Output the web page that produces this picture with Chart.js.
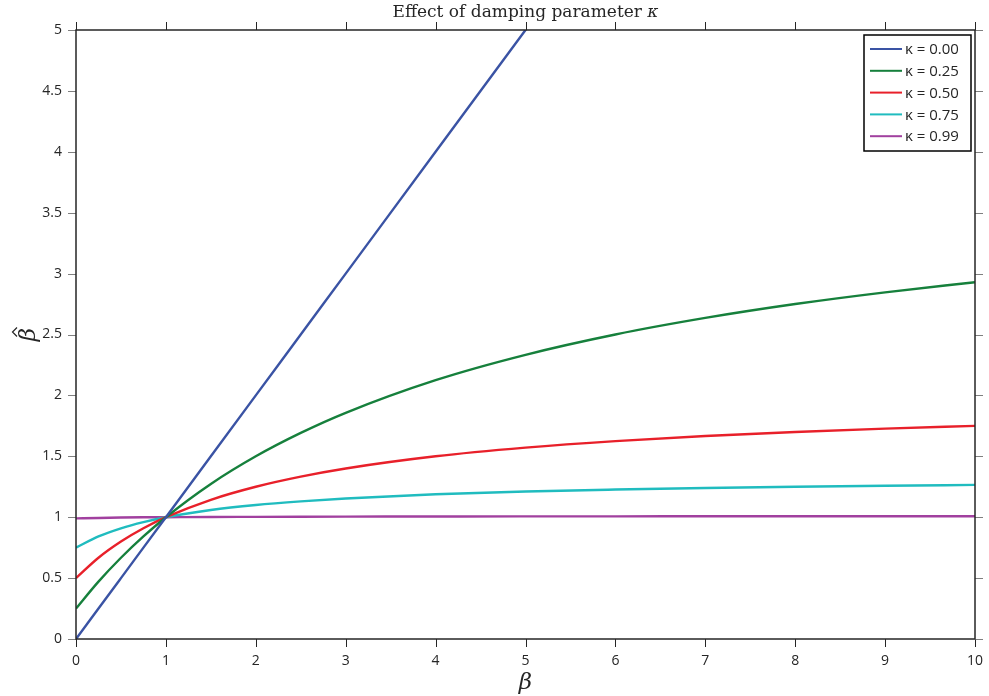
<!DOCTYPE html>
<html>
<head>
<meta charset="utf-8">
<script src="https://cdn.jsdelivr.net/npm/chart.js@4"></script>
<style>
  html, body { margin: 0; padding: 0; background: #fff; }
  #wrap { width: 989px; height: 696px; position: relative; }
</style>
</head>
<body>
<div id="wrap"><canvas id="chart"></canvas></div>
<script>
// beta values sampled along the x axis
const betaValues = [0, 0.25, 0.5, 0.75, 1, 1.5, 2, 2.5, 3, 4, 5, 6, 7, 8, 9, 10];

// beta hat, one array per kappa
const kappa000 = [0, 0.25, 0.5, 0.75, 1, 1.5, 2, 2.5, 3, 4, 5, 6, 7, 8, 9, 10];
const kappa025 = [0.25, 0.471, 0.667, 0.842, 1, 1.273, 1.5, 1.692, 1.857, 2.125, 2.333, 2.5, 2.636, 2.75, 2.846, 2.929];
const kappa050 = [0.5, 0.667, 0.8, 0.909, 1, 1.143, 1.25, 1.333, 1.4, 1.5, 1.571, 1.625, 1.667, 1.7, 1.727, 1.75];
const kappa075 = [0.75, 0.842, 0.909, 0.96, 1, 1.059, 1.1, 1.13, 1.154, 1.188, 1.211, 1.227, 1.24, 1.25, 1.258, 1.265];
const kappa099 = [0.99, 0.994, 0.997, 0.999, 1, 1.002, 1.003, 1.004, 1.005, 1.006, 1.007, 1.007, 1.008, 1.008, 1.008, 1.008];

const seriesLabels = ['κ = 0.00', 'κ = 0.25', 'κ = 0.50', 'κ = 0.75', 'κ = 0.99'];
const seriesColors = ['#3a53a4', '#16803c', '#e8202a', '#20bcbf', '#a1409f'];
const seriesValues = [kappa000, kappa025, kappa050, kappa075, kappa099];

const xTicks = [0, 1, 2, 3, 4, 5, 6, 7, 8, 9, 10];
const yTicks = [0, 0.5, 1, 1.5, 2, 2.5, 3, 3.5, 4, 4.5, 5];

const TICK_FONT = '"Open Sans", "Noto Sans", sans-serif';
const SERIF = '"DejaVu Serif", "Liberation Serif", serif';

function toPoints(ys) {
    return betaValues.map(function(x, i) { return { x: x, y: ys[i] }; });
}

// frame, outward ticks, title, axis labels and the legend box
const framePlugin = {
    id: 'frame',
    afterDraw: function(chart) {
        const ctx = chart.ctx;
        const a = chart.chartArea;
        const xs = chart.scales.x;
        const ys = chart.scales.y;
        const tl = 8;
        ctx.save();

        // ticks
        ctx.lineWidth = 1;
        ctx.strokeStyle = '#262626';
        xTicks.forEach(function(v) {
            const px = Math.round(xs.getPixelForValue(v)) + 0.5;
            ctx.beginPath();
            ctx.moveTo(px, a.bottom); ctx.lineTo(px, a.bottom + tl);
            ctx.moveTo(px, a.top); ctx.lineTo(px, a.top - tl);
            ctx.stroke();
        });
        ctx.strokeStyle = '#7f7f7f';
        yTicks.forEach(function(v) {
            const py = Math.round(ys.getPixelForValue(v)) + 0.5;
            ctx.beginPath();
            ctx.moveTo(a.left, py); ctx.lineTo(a.left - tl, py);
            ctx.moveTo(a.right, py); ctx.lineTo(a.right + tl, py);
            ctx.stroke();
        });

        // box
        ctx.strokeStyle = '#262626';
        ctx.lineWidth = 1.5;
        ctx.strokeRect(a.left, a.top, a.right - a.left, a.bottom - a.top);

        // title
        ctx.fillStyle = '#262626';
        ctx.textBaseline = 'middle';
        const title = 'Effect of damping parameter ';
        ctx.font = '17px ' + SERIF;
        const w1 = ctx.measureText(title).width;
        ctx.font = 'italic 17px ' + SERIF;
        const w2 = ctx.measureText('κ').width;
        const cx = (a.left + a.right) / 2;
        ctx.textAlign = 'left';
        ctx.font = '17px ' + SERIF;
        ctx.fillText(title, cx - (w1 + w2) / 2, 13);
        ctx.font = 'italic 17px ' + SERIF;
        ctx.fillText('κ', cx - (w1 + w2) / 2 + w1, 13);

        // axis titles
        ctx.textAlign = 'center';
        ctx.font = 'italic 23px ' + SERIF;
        ctx.fillText('β', cx, 683);
        ctx.save();
        ctx.translate(29, (a.top + a.bottom) / 2);
        ctx.rotate(-Math.PI / 2);
        ctx.fillText('β', 0, 0);
        // hat over the beta
        ctx.strokeStyle = '#262626';
        ctx.lineWidth = 1.2;
        ctx.beginPath();
        ctx.moveTo(-2, -12);
        ctx.lineTo(2.5, -16.5);
        ctx.lineTo(7, -12);
        ctx.stroke();
        ctx.restore();

        // legend
        const lx = 864, ly = 35, lw = 107, lh = 116;
        ctx.fillStyle = '#fff';
        ctx.fillRect(lx, ly, lw, lh);
        ctx.strokeStyle = '#000';
        ctx.lineWidth = 1.5;
        ctx.strokeRect(lx, ly, lw, lh);
        ctx.font = '15px ' + TICK_FONT;
        ctx.textAlign = 'left';
        chart.data.datasets.forEach(function(ds, i) {
            const y = ly + 14 + i * 21.8;
            ctx.strokeStyle = ds.borderColor;
            ctx.lineWidth = 2;
            ctx.beginPath();
            ctx.moveTo(lx + 6, y); ctx.lineTo(lx + 38, y);
            ctx.stroke();
            ctx.fillStyle = '#262626';
            ctx.fillText(ds.label, lx + 41, y + 1);
        });
        ctx.restore();
    }
};

new Chart(document.getElementById('chart').getContext('2d'), {
    type: 'line',
    data: {
        datasets: seriesValues.map(function(vals, i) {
            return {
                label: seriesLabels[i],
                data: toPoints(vals),
                borderColor: seriesColors[i],
                backgroundColor: seriesColors[i],
                borderWidth: 2.4,
                pointRadius: 0,
                fill: false,
                cubicInterpolationMode: 'monotone'
            };
        })
    },
    options: {
        responsive: true,
        maintainAspectRatio: false,
        animation: false,
        layout: { padding: { top: 30, right: 14, left: 0, bottom: 0 } },
        plugins: {
            legend: { display: false },
            tooltip: { enabled: false },
            title: { display: false }
        },
        scales: {
            x: {
                type: 'linear',
                min: 0,
                max: 10,
                afterFit: function(s) { s.height = 57; s.paddingLeft = 0; s.paddingRight = 0; },
                afterBuildTicks: function(s) { s.ticks = xTicks.map(function(v) { return { value: v }; }); },
                grid: { display: false, drawTicks: false },
                border: { display: false },
                ticks: {
                    padding: 14,
                    color: '#262626',
                    font: { family: TICK_FONT, size: 14 },
                    maxRotation: 0,
                    callback: function(v) { return String(v); }
                }
            },
            y: {
                type: 'linear',
                min: 0,
                max: 5,
                afterFit: function(s) { s.width = 76; s.paddingTop = 0; s.paddingBottom = 0; },
                afterBuildTicks: function(s) { s.ticks = yTicks.map(function(v) { return { value: v }; }); },
                grid: { display: false, drawTicks: false },
                border: { display: false },
                ticks: {
                    padding: 14,
                    color: '#262626',
                    font: { family: TICK_FONT, size: 14 },
                    callback: function(v) { return String(v); }
                }
            }
        }
    },
    plugins: [framePlugin]
});
</script>
</body>
</html>
